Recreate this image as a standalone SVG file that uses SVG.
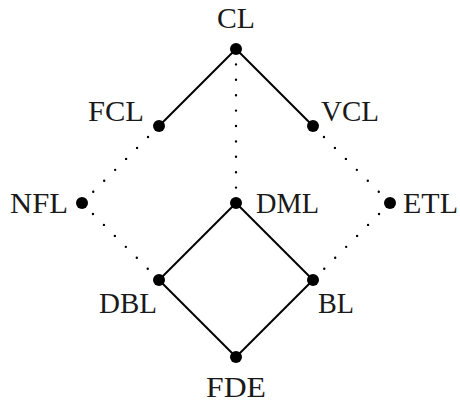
<svg xmlns="http://www.w3.org/2000/svg" width="460" height="404" viewBox="0 0 460 404">
<style>
.solid{stroke:#000;stroke-width:2;fill:none}
.dot{stroke:#000;stroke-width:2.4;fill:none;stroke-linecap:round;stroke-dasharray:0 15.5}
.n{fill:#000}
text{font-family:"Liberation Serif","Times New Roman",serif;font-size:29px;fill:#1a1a1a}
</style>
<rect width="460" height="404" fill="#fff"/>
<g id="connectors">
<line class="solid" x1="236" y1="49" x2="159" y2="126"/>
<line class="solid" x1="236" y1="49" x2="313" y2="126"/>
<line class="solid" x1="236" y1="203" x2="159" y2="280"/>
<line class="solid" x1="236" y1="203" x2="313" y2="280"/>
<line class="solid" x1="159" y1="280" x2="236" y2="357"/>
<line class="solid" x1="313" y1="280" x2="236" y2="357"/>
<line class="dot" x1="236" y1="49" x2="236" y2="203" style="stroke-dasharray:0 15.4"/>
<line class="dot" x1="159" y1="126" x2="82" y2="203"/>
<line class="dot" x1="82" y1="203" x2="159" y2="280"/>
<line class="dot" x1="313" y1="126" x2="390" y2="203"/>
<line class="dot" x1="390" y1="203" x2="313" y2="280"/>
</g>
<g id="CL"><circle class="n" cx="236" cy="49" r="6"/><text x="236" y="28" text-anchor="middle" textLength="38" lengthAdjust="spacingAndGlyphs">CL</text></g>
<g id="FCL"><circle class="n" cx="159" cy="126" r="6"/><text x="144" y="121" text-anchor="end" textLength="56" lengthAdjust="spacingAndGlyphs">FCL</text></g>
<g id="VCL"><circle class="n" cx="313" cy="126" r="6"/><text x="321" y="121" textLength="58" lengthAdjust="spacingAndGlyphs">VCL</text></g>
<g id="NFL"><circle class="n" cx="82" cy="203" r="6"/><text x="68" y="213" text-anchor="end" textLength="58" lengthAdjust="spacingAndGlyphs">NFL</text></g>
<g id="DML"><circle class="n" cx="236" cy="203" r="6"/><text x="256" y="213" textLength="63" lengthAdjust="spacingAndGlyphs">DML</text></g>
<g id="ETL"><circle class="n" cx="390" cy="203" r="6"/><text x="403" y="213" textLength="55" lengthAdjust="spacingAndGlyphs">ETL</text></g>
<g id="DBL"><circle class="n" cx="159" cy="280" r="6"/><text x="157" y="313" text-anchor="end" textLength="58" lengthAdjust="spacingAndGlyphs">DBL</text></g>
<g id="BL"><circle class="n" cx="313" cy="280" r="6"/><text x="318" y="313" textLength="36" lengthAdjust="spacingAndGlyphs">BL</text></g>
<g id="FDE"><circle class="n" cx="236" cy="357" r="6"/><text x="236" y="397" text-anchor="middle" textLength="60" lengthAdjust="spacingAndGlyphs">FDE</text></g>
</svg>
